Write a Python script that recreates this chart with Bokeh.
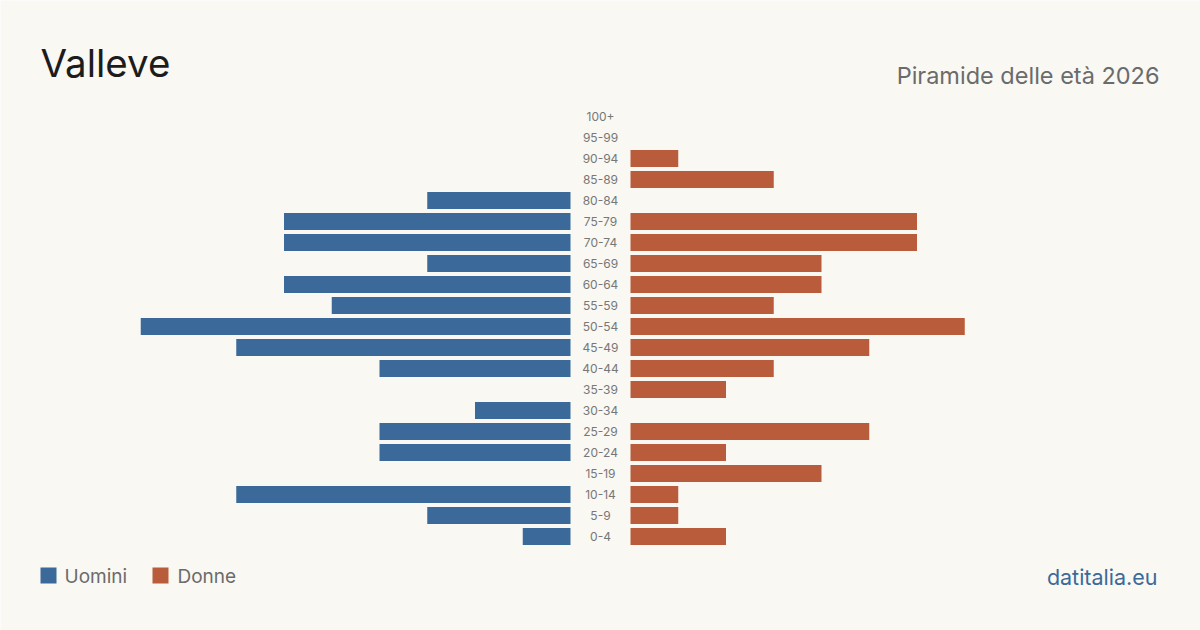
from bokeh.plotting import figure
from bokeh.models import Range1d, Label, ColumnDataSource
from bokeh.core.properties import value
from bokeh.embed import file_html
from bokeh.resources import INLINE

# ---- data ----
age_groups = ["0-4", "5-9", "10-14", "15-19", "20-24", "25-29", "30-34", "35-39",
              "40-44", "45-49", "50-54", "55-59", "60-64", "65-69", "70-74",
              "75-79", "80-84", "85-89", "90-94", "95-99", "100+"]
men = [1, 3, 7, 0, 4, 4, 2, 0, 4, 7, 9, 5, 6, 3, 6, 6, 3, 0, 0, 0, 0]
women = [2, 1, 1, 4, 2, 5, 0, 2, 3, 5, 7, 3, 4, 4, 6, 6, 0, 3, 1, 0, 0]

title_text = "Valleve"
subtitle_text = "Piramide delle età 2026"
legend_labels = ["Uomini", "Donne"]
source_text = "datitalia.eu"

# ---- styling ----
BG = "#f9f8f3"
BLUE = "#3b6a9a"
ORANGE = "#b95c3b"
FONT = "Inter"

W, H = 1200, 630
unit_px = 47.75          # pixels per person
row_px = 21.0            # pixels per age row
gap = 30.0 / unit_px     # half gap around center labels (in data units)
half_w = (W / 2) / unit_px
top_row_y = 116.0        # pixel y of top row center
n = len(age_groups)

p = figure(width=W, height=H, output_backend="svg", toolbar_location=None,
           x_range=Range1d(-half_w, half_w),
           y_range=Range1d(-(H - (top_row_y + (n - 1) * row_px)) / row_px,
                           (n - 1) + top_row_y / row_px),
           min_border=0, min_border_left=0, min_border_right=0,
           min_border_top=0, min_border_bottom=0)
p.background_fill_color = BG
p.border_fill_color = BG
p.outline_line_color = None
p.axis.visible = False
p.grid.visible = False

ys = list(range(n))
src = ColumnDataSource(dict(
    y=ys, age=age_groups,
    m_left=[-gap - v for v in men], m_right=[-gap] * n,
    w_left=[gap] * n, w_right=[gap + v for v in women],
    m_h=[0.8 if v > 0 else 0 for v in men],
    w_h=[0.8 if v > 0 else 0 for v in women],
    xc=[0] * n,
))

p.hbar(y="y", left="m_left", right="m_right", height="m_h", source=src,
       fill_color=BLUE, line_color=None)
p.hbar(y="y", left="w_left", right="w_right", height="w_h", source=src,
       fill_color=ORANGE, line_color=None)
p.text(x="xc", y="y", text="age", source=src, text_align="center",
       text_baseline="middle", text_font=value(FONT), text_font_size="12px",
       text_color="#777777")

# ---- titles ----
p.add_layout(Label(x=40, y=H - 85, x_units="screen", y_units="screen",
                   text=title_text, text_font=FONT, text_font_size="38.5px",
                   text_color="#1c1c1c"))
p.add_layout(Label(x=1159, y=H - 89, x_units="screen", y_units="screen",
                   text=subtitle_text, text_font=FONT, text_font_size="23.5px",
                   text_color="#6b6b6b", text_align="right"))

# ---- legend ----
p.rect(x=[-half_w + 48 / unit_px, -half_w + 160 / unit_px],
       y=[(n - 1) + (top_row_y - 575) / row_px] * 2,
       width=16 / unit_px, height=16 / row_px,
       fill_color=[BLUE, ORANGE], line_color=None)
p.add_layout(Label(x=64, y=H - 576, x_units="screen", y_units="screen",
                   text=legend_labels[0], text_font=FONT, text_font_size="19px",
                   text_color="#6b6b6b", text_baseline="middle"))
p.add_layout(Label(x=177, y=H - 576, x_units="screen", y_units="screen",
                   text=legend_labels[1], text_font=FONT, text_font_size="19px",
                   text_color="#6b6b6b", text_baseline="middle"))

p.add_layout(Label(x=1157, y=H - 576, x_units="screen", y_units="screen",
                   text=source_text, text_font=FONT, text_font_size="21.5px",
                   text_color="#3b6a9a", text_align="right",
                   text_baseline="middle"))

open("out.html", "w").write(file_html(p, INLINE))
